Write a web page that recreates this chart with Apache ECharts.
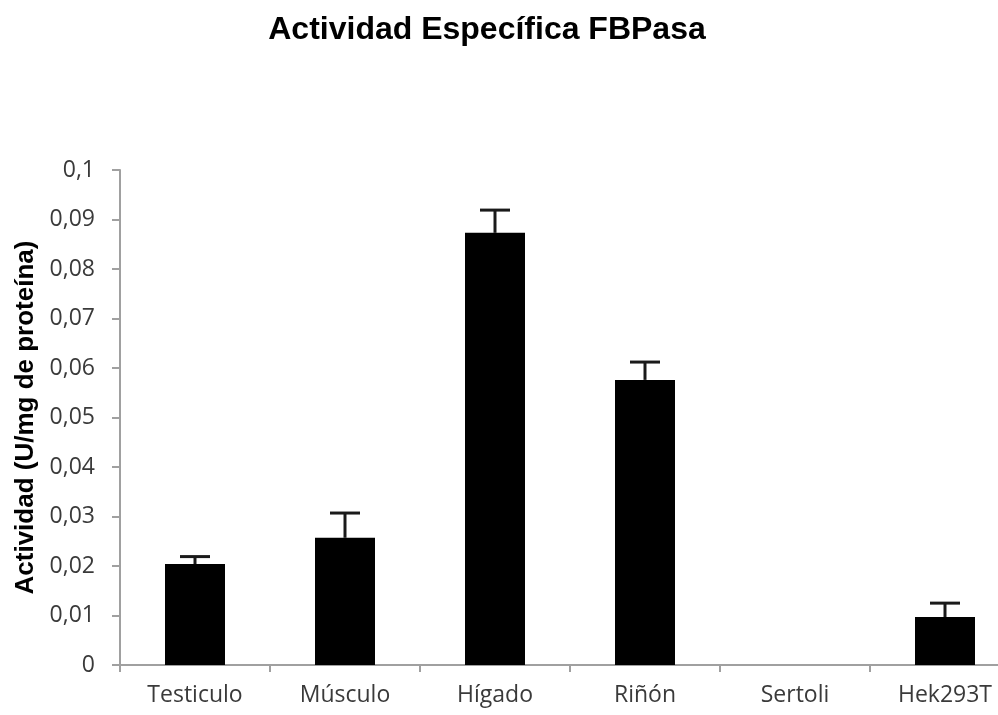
<!DOCTYPE html>
<html>
<head>
<meta charset="utf-8">
<script src="https://cdn.jsdelivr.net/npm/echarts@6/dist/echarts.min.js"></script>
<style>
  html, body { margin: 0; padding: 0; background: #fff; }
  #chart { width: 998px; height: 715px; }
</style>
</head>
<body>
<div id="chart"></div>
<script>
const categories = ['Testiculo', 'Músculo', 'Hígado', 'Riñón', 'Sertoli', 'Hek293T']
const actividad = [0.0204, 0.0257, 0.0873, 0.0576, 0, 0.0097]
const errores = [0.0015, 0.005, 0.0046, 0.0036, 0, 0.0028]

const chart = echarts.init(document.getElementById('chart'))

const option = {
  animation: false,
  title: {
    text: 'Actividad Específica FBPasa',
    left: 482,
    top: 9,
    textAlign: 'center',
    textStyle: {
      fontFamily: 'Liberation Sans',
      fontWeight: 'bold',
      fontSize: 32,
      color: '#000'
    }
  },
  grid: {
    left: 120,
    width: 900,
    top: 170,
    bottom: 50,
    outerBoundsMode: 'none',
    containLabel: false
  },
  xAxis: {
    type: 'category',
    data: categories,
    axisLine: { lineStyle: { color: '#a0a0a0', width: 2 } },
    axisTick: { show: true, length: 7, lineStyle: { color: '#a0a0a0', width: 2 } },
    axisLabel: {
      color: '#3a3a3a',
      fontFamily: 'Open Sans',
      fontSize: 23,
      margin: 19
    }
  },
  yAxis: {
    type: 'value',
    min: 0,
    max: 0.1,
    interval: 0.01,
    name: 'Actividad (U/mg de proteína)',
    nameLocation: 'middle',
    nameGap: 75,
    nameTextStyle: {
      fontFamily: 'Liberation Sans',
      fontWeight: 'bold',
      fontSize: 26,
      color: '#000'
    },
    axisLine: { show: true, lineStyle: { color: '#a0a0a0', width: 2 } },
    axisTick: { show: true, length: 8, lineStyle: { color: '#a0a0a0', width: 2 } },
    splitLine: { show: false },
    axisLabel: {
      color: '#3a3a3a',
      fontFamily: 'Open Sans',
      fontSize: 23,
      margin: 25,
      formatter: v => String(Math.round(v * 100) / 100).replace('.', ',')
    }
  },
  series: [
    {
      type: 'bar',
      data: actividad,
      barWidth: '40%',
      itemStyle: { color: '#000' }
    },
    {
      type: 'custom',
      data: actividad.map((v, i) => [i, v, v + errores[i]]),
      z: 10,
      renderItem: (params, api) => {
        if (api.value(2) === api.value(1)) return null
        const base = api.coord([api.value(0), api.value(1)])
        const top = api.coord([api.value(0), api.value(2)])
        const half = 15
        const style = { stroke: '#1a1a1a', lineWidth: 3 }
        return {
          type: 'group',
          children: [
            { type: 'line', shape: { x1: base[0], y1: base[1], x2: top[0], y2: top[1] }, style },
            { type: 'line', shape: { x1: top[0] - half, y1: top[1], x2: top[0] + half, y2: top[1] }, style }
          ]
        }
      }
    }
  ]
}

chart.setOption(option)
</script>
</body>
</html>
